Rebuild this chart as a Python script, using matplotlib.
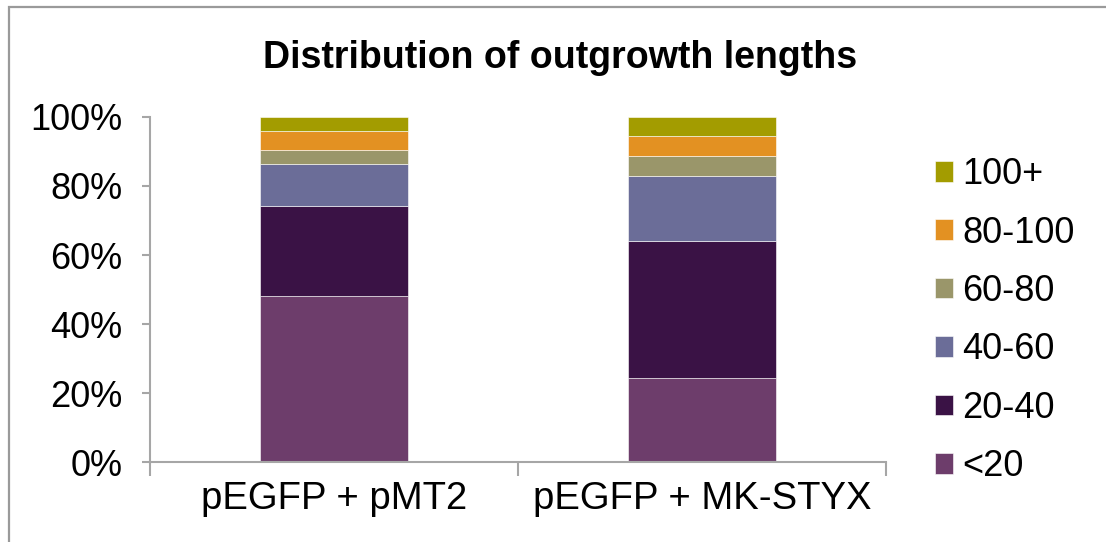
import matplotlib

matplotlib.use("Agg")
import matplotlib.pyplot as plt
from matplotlib.patches import Rectangle
from matplotlib.ticker import FuncFormatter

plt.rcParams["font.family"] = ["Liberation Sans", "DejaVu Sans"]

groups = ["pEGFP + pMT2", "pEGFP + MK-STYX"]
bins = ["<20", "20-40", "40-60", "60-80", "80-100", "100+"]
# percentage of outgrowths in each length bin, per group
pct_pmt2 = [48.1, 26.0, 12.1, 4.1, 5.6, 4.1]
pct_mkstyx = [24.4, 39.7, 18.8, 5.8, 5.7, 5.6]
colors = ["#6d3d6b", "#3a1245", "#6b6d98", "#9a966a", "#e39122", "#a39c00"]

axis_grey = "#a6a6a6"

fig = plt.figure(figsize=(11.06, 5.42), dpi=100)
ax = fig.add_axes([0.1356, 0.1467, 0.6654, 0.638])

values = list(zip(pct_pmt2, pct_mkstyx))
bottoms = [0.0, 0.0]
handles = []
for label, vals, color in zip(bins, values, colors):
    fracs = [v / 100 for v in vals]
    bars = ax.bar(range(len(groups)), fracs, width=0.4, bottom=bottoms,
                  color=color, edgecolor="#ffffff", linewidth=0.4, label=label)
    handles.append(bars)
    bottoms = [b + f for b, f in zip(bottoms, fracs)]

ax.set_xlim(-0.5, 1.5)
ax.set_ylim(0, 1.0)
ax.set_yticks([0, 0.2, 0.4, 0.6, 0.8, 1.0])
ax.yaxis.set_major_formatter(FuncFormatter(lambda v, _: f"{v * 100:.0f}%"))
ax.set_xticks([-0.5, 0.5, 1.5])
ax.set_xticklabels([])
ax.set_xticks([0, 1], minor=True)
ax.set_xticklabels(groups, minor=True)

for side in ["top", "right"]:
    ax.spines[side].set_visible(False)
for side in ["left", "bottom"]:
    ax.spines[side].set_color(axis_grey)
    ax.spines[side].set_linewidth(1.5)

ax.tick_params(axis="y", direction="out", length=6, width=1.5, color=axis_grey,
               labelsize=26, pad=14)
ax.tick_params(axis="x", which="major", direction="out", length=10, width=1.5,
               color=axis_grey)
ax.tick_params(axis="x", which="minor", length=0, labelsize=27.5, pad=13)

fig.text(560 / 1106, 1 - 58 / 542, "Distribution of outgrowth lengths",
         fontsize=27, fontweight="bold", ha="center", va="center")

ax.legend(handles[::-1], bins[::-1], loc="center left", bbox_to_anchor=(1.042, 0.41),
          frameon=False, fontsize=26, handlelength=0.5, handleheight=0.5,
          handletextpad=0.25, labelspacing=0.65, borderpad=0)

# outer chart frame (clipped at the right and bottom of the picture)
fig.patches.append(Rectangle((9 / 1106, -0.1), 1.2, 1.1 - 7 / 542,
                             transform=fig.transFigure, fill=False,
                             edgecolor="#9a9a9a", linewidth=1.6))

fig.savefig("out.png", dpi=100)
plt.close(fig)
